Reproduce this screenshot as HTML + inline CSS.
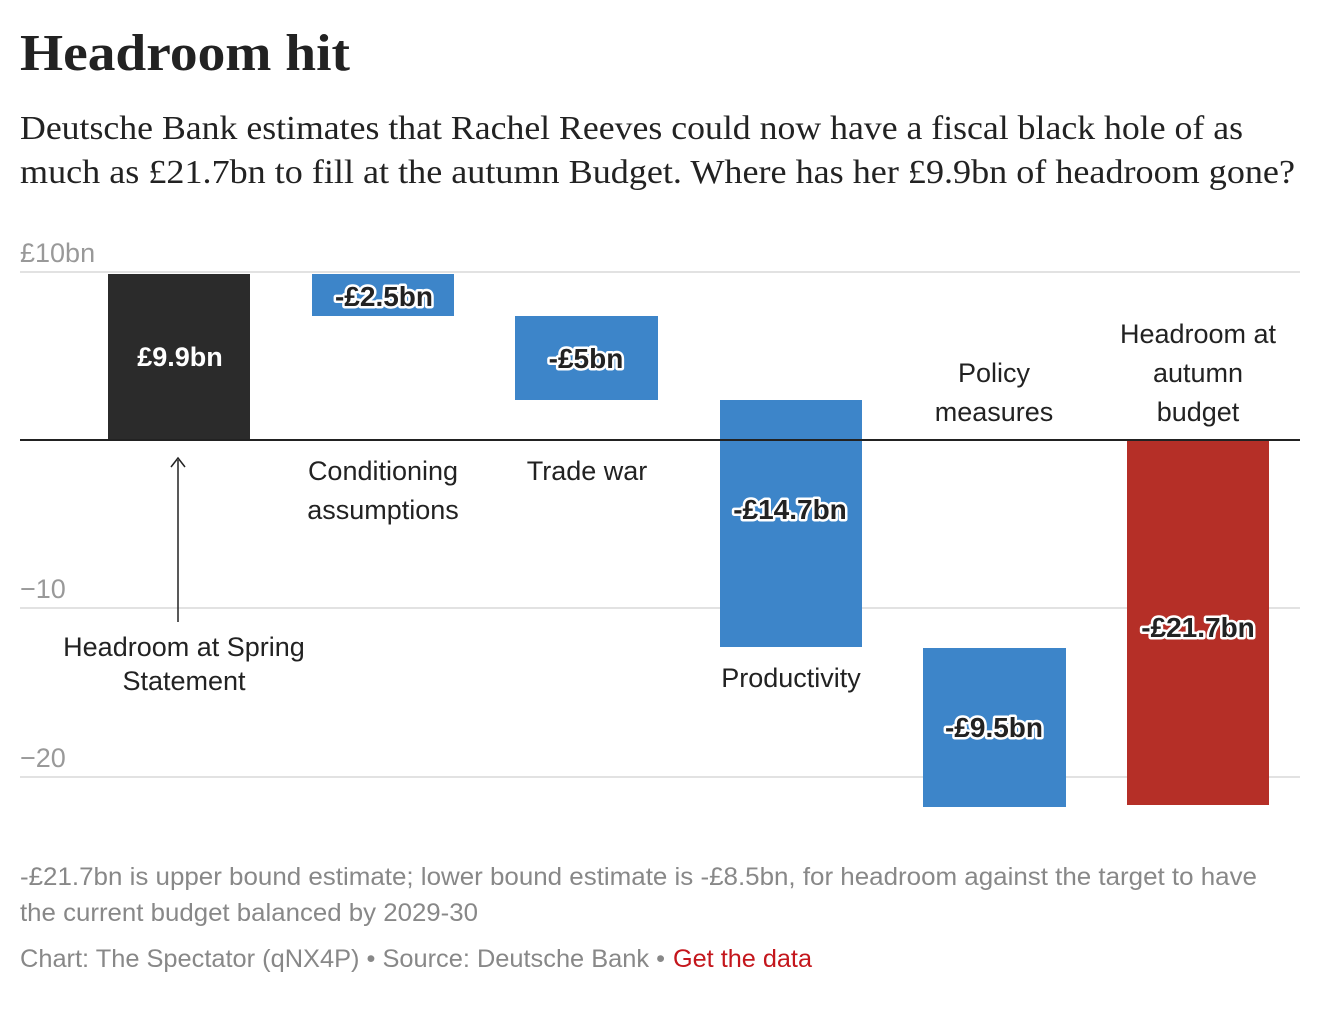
<!DOCTYPE html>
<html><head><meta charset="utf-8"><style>
body{margin:0;background:#fff;width:1334px;height:1008px;overflow:hidden;font-family:"Liberation Sans",sans-serif}
svg text{font-family:"Liberation Sans",sans-serif}
.h{font-family:"Liberation Serif",serif}
.lbl{font-size:27px;fill:#222;text-anchor:middle}
.v{font-size:28px;font-weight:bold;fill:#222;text-anchor:middle;stroke:#fff;stroke-width:5px;paint-order:stroke;stroke-linejoin:round}
.ax{font-size:27px;fill:#999}
.f{font-size:25px;fill:#888}
</style></head><body>
<svg width="1334" height="1008" xmlns="http://www.w3.org/2000/svg">
<text class="h" x="20" y="70" font-size="52" font-weight="bold" fill="#222" textLength="330" lengthAdjust="spacingAndGlyphs">Headroom hit</text>
<text class="h" x="20" y="139" font-size="34" fill="#222" textLength="1223" lengthAdjust="spacingAndGlyphs">Deutsche Bank estimates that Rachel Reeves could now have a fiscal black hole of as</text>
<text class="h" x="20" y="183" font-size="34" fill="#222" textLength="1275" lengthAdjust="spacingAndGlyphs">much as £21.7bn to fill at the autumn Budget. Where has her £9.9bn of headroom gone?</text>
<text class="ax" x="20" y="262">£10bn</text>
<text class="ax" x="20" y="598">−10</text>
<text class="ax" x="20" y="767">−20</text>
<line x1="20" y1="272" x2="1300" y2="272" stroke="#e2e2e2" stroke-width="2"/>
<line x1="20" y1="608" x2="1300" y2="608" stroke="#e2e2e2" stroke-width="2"/>
<line x1="20" y1="777" x2="1300" y2="777" stroke="#e2e2e2" stroke-width="2"/>
<rect x="108" y="274" width="142" height="166" fill="#2b2b2b"/>
<rect x="312" y="274" width="142" height="42" fill="#3d85c9"/>
<rect x="515" y="316" width="143" height="84" fill="#3d85c9"/>
<rect x="720" y="400" width="142" height="247" fill="#3d85c9"/>
<rect x="923" y="648" width="143" height="159" fill="#3d85c9"/>
<rect x="1127" y="440" width="142" height="365" fill="#b52f27"/>
<line x1="20" y1="440" x2="1300" y2="440" stroke="#222" stroke-width="2"/>
<text x="180" y="366" font-size="27" font-weight="bold" fill="#fff" text-anchor="middle">£9.9bn</text>
<text class="v" x="384" y="306">-£2.5bn</text>
<text class="v" x="586" y="368">-£5bn</text>
<text class="v" x="790" y="519">-£14.7bn</text>
<text class="v" x="994" y="737">-£9.5bn</text>
<text class="v" x="1198" y="637">-£21.7bn</text>
<line x1="178" y1="460" x2="178" y2="622" stroke="#222" stroke-width="1.5"/>
<polyline points="171,467 178,458 185,467" fill="none" stroke="#222" stroke-width="1.5"/>
<text class="lbl" x="184" y="656">Headroom at Spring</text>
<text class="lbl" x="184" y="690">Statement</text>
<text class="lbl" x="383" y="480">Conditioning</text>
<text class="lbl" x="383" y="519">assumptions</text>
<text class="lbl" x="587" y="480">Trade war</text>
<text class="lbl" x="791" y="687">Productivity</text>
<text class="lbl" x="994" y="382">Policy</text>
<text class="lbl" x="994" y="421">measures</text>
<text class="lbl" x="1198" y="343">Headroom at</text>
<text class="lbl" x="1198" y="382">autumn</text>
<text class="lbl" x="1198" y="421">budget</text>
<text class="f" x="20" y="885" textLength="1237" lengthAdjust="spacingAndGlyphs">-£21.7bn is upper bound estimate; lower bound estimate is -£8.5bn, for headroom against the target to have</text>
<text class="f" x="20" y="921" textLength="458" lengthAdjust="spacingAndGlyphs">the current budget balanced by 2029-30</text>
<text class="f" x="20" y="967" textLength="645" lengthAdjust="spacingAndGlyphs">Chart: The Spectator (qNX4P) • Source: Deutsche Bank •</text>
<text x="673" y="967" font-size="25" fill="#c4161c" textLength="139" lengthAdjust="spacingAndGlyphs">Get the data</text>
</svg>
</body></html>
